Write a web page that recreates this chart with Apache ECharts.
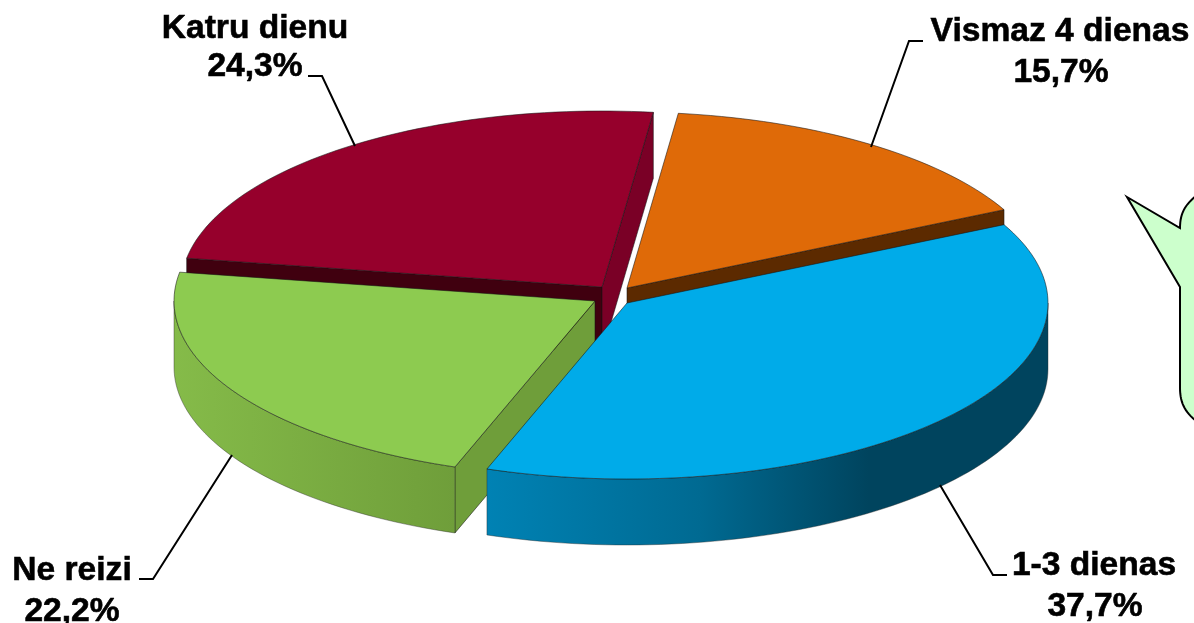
<!DOCTYPE html>
<html><head><meta charset="utf-8">
<style>html,body{margin:0;padding:0;background:#fff;overflow:hidden}#c{width:1194px;height:623px}</style>
<script src="https://cdn.jsdelivr.net/npm/echarts@6/dist/echarts.min.js"></script>
</head><body><div id="c"></div>
<script>
// Data, clockwise from the top
const categories = ['Vismaz 4 dienas', '1-3 dienas', 'Ne reizi', 'Katru dienu'];
const values = [15.7, 37.7, 22.2, 24.3];
// Painter's order (far slices first)
const drawOrder = [0, 3, 2, 1];

// Presentation
const topColors = ['#DF6A08', '#00ABE9', '#8DCB50', '#96002C'];
const startCutColors = ['#5C2A00', '#004560', '#6F9E3A', '#40000F'];
const endCutColors = ['#5C2A00', '#004560', '#6F9E3A', '#7A0026'];
const wallStops = [
  [[0, '#8A4000'], [1, '#5C2A00']],
  [[0, '#0082B4'], [0.38, '#006A92'], [0.68, '#00445E'], [1, '#00445E']],
  [[0, '#85BB49'], [1, '#6F9E3A']],
  [[0, '#7A0026'], [1, '#7A0026']]
];
const centers = [[627, 288], [627, 303], [595, 301], [602, 287]];
const radiusX = 421, radiusY = 176, depth = 66, startDeg = -26.5 - 56.5;
const labelBoxes = [[1060, 32, 1061, 73], [1094, 566, 1095, 607], [72, 571, 72, 612], [255, 29, 255, 67]];
const leaders = [
  [[923, 41], [909, 41], [871, 147]],
  [[1007, 575], [993, 575], [940, 485]],
  [[139, 579], [153, 579], [232, 455]],
  [[308, 76], [322, 76], [355, 146]]
];

const total = values.reduce((a, b) => a + b, 0);
const starts = [];
values.reduce((acc, v, i) => { starts[i] = acc; return acc + v / total * 360; }, startDeg);
const rad = d => d * Math.PI / 180;
const rim = (c, d, dy) => [c[0] + radiusX * Math.cos(rad(d)), c[1] + radiusY * Math.sin(rad(d)) + (dy || 0)];
function arc(c, a, b, dy) {
  const pts = [];
  const n = Math.max(2, Math.ceil(Math.abs(b - a) / 1.5));
  for (let k = 0; k <= n; k++) pts.push(rim(c, a + (b - a) * k / n, dy));
  return pts;
}
const edge = 'rgba(20,20,20,0.55)';

function renderSlice(params, api) {
  const i = api.value(0), v = api.value(1);
  const a = starts[i], b = a + v / total * 360, c = centers[i];
  const kids = [];
  const below = p => [p[0], p[1] + depth];
  const cut = (d, fill) => {
    const r = rim(c, d);
    kids.push({ type: 'polygon', shape: { points: [c, r, below(r), below(c)] },
      style: { fill: fill, stroke: edge, lineWidth: 1 } });
  };
  // A cut face only shows when the slice top does not lie over it
  if (Math.cos(rad(a)) < 0) cut(a, startCutColors[i]);
  if (Math.cos(rad(b)) > 0) cut(b, endCutColors[i]);
  // Visible part of the curved wall: angles in [0,180] (mod 360)
  [[0, 180], [360, 540], [-360, -180]].forEach(w => {
    const lo = Math.max(a, w[0]), hi = Math.min(b, w[1]);
    if (hi > lo) {
      const topArc = arc(c, lo, hi), botArc = arc(c, hi, lo, depth);
      kids.push({ type: 'polygon', shape: { points: topArc.concat(botArc) },
        style: { fill: new echarts.graphic.LinearGradient(0, 0, 1, 0, wallStops[i].map(s => ({ offset: s[0], color: s[1] }))),
          stroke: 'rgba(40,40,40,0.4)', lineWidth: 1 } });
    }
  });
  kids.push({ type: 'polygon', shape: { points: [c].concat(arc(c, a, b)) },
    style: { fill: topColors[i], stroke: edge, lineWidth: 1 } });
  return { type: 'group', children: kids };
}

function renderLabel(params, api) {
  const i = api.value(0), v = api.value(1), box = labelBoxes[i];
  const font = { fontFamily: '"Liberation Sans",Arial,sans-serif', fontWeight: 'bold', fontSize: 33.6, fill: '#000', stroke: '#000', lineWidth: 0.6, align: 'center', verticalAlign: 'middle' };
  return { type: 'group', children: [
    { type: 'polyline', shape: { points: leaders[i] }, style: { fill: 'none', stroke: '#000', lineWidth: 2 } },
    { type: 'text', style: Object.assign({ text: categories[i], x: box[0], y: box[1] }, font) },
    { type: 'text', style: Object.assign({ text: v.toFixed(1).replace('.', ',') + '%', x: box[2], y: box[3] }, font) }
  ] };
}

// Callout bubble outline (decorative, runs off the right edge)
function bez(p0, p1, p2, p3) {
  const out = [];
  for (let k = 0; k <= 16; k++) {
    const t = k / 16, u = 1 - t;
    out.push([0, 1].map(d => u*u*u*p0[d] + 3*u*u*t*p1[d] + 3*u*t*t*p2[d] + t*t*t*p3[d]));
  }
  return out;
}
const bubble = [[1127, 197]]
  .concat(bez([1180, 228], [1180, 212], [1186, 203], [1200, 193]))
  .concat(bez([1200, 424], [1186, 414], [1180, 404], [1180, 388]))
  .concat([[1180, 287]]);

const chart = echarts.init(document.getElementById('c'), null, { renderer: 'canvas', width: 1194, height: 623 });
chart.setOption({
  animation: false,
  backgroundColor: '#fff',
  graphic: [{
    type: 'polygon', z: 1,
    shape: { points: bubble },
    style: { fill: '#CCFFCC', stroke: '#000', lineWidth: 2 }
  }],
  series: [
    { type: 'custom', coordinateSystem: 'none', renderItem: renderSlice, clip: false, silent: true, z: 2,
      data: drawOrder.map(i => [i, values[i]]) },
    { type: 'custom', coordinateSystem: 'none', renderItem: renderLabel, clip: false, silent: true, z: 3,
      data: drawOrder.map(i => [i, values[i]]) }
  ]
});
</script></body></html>
